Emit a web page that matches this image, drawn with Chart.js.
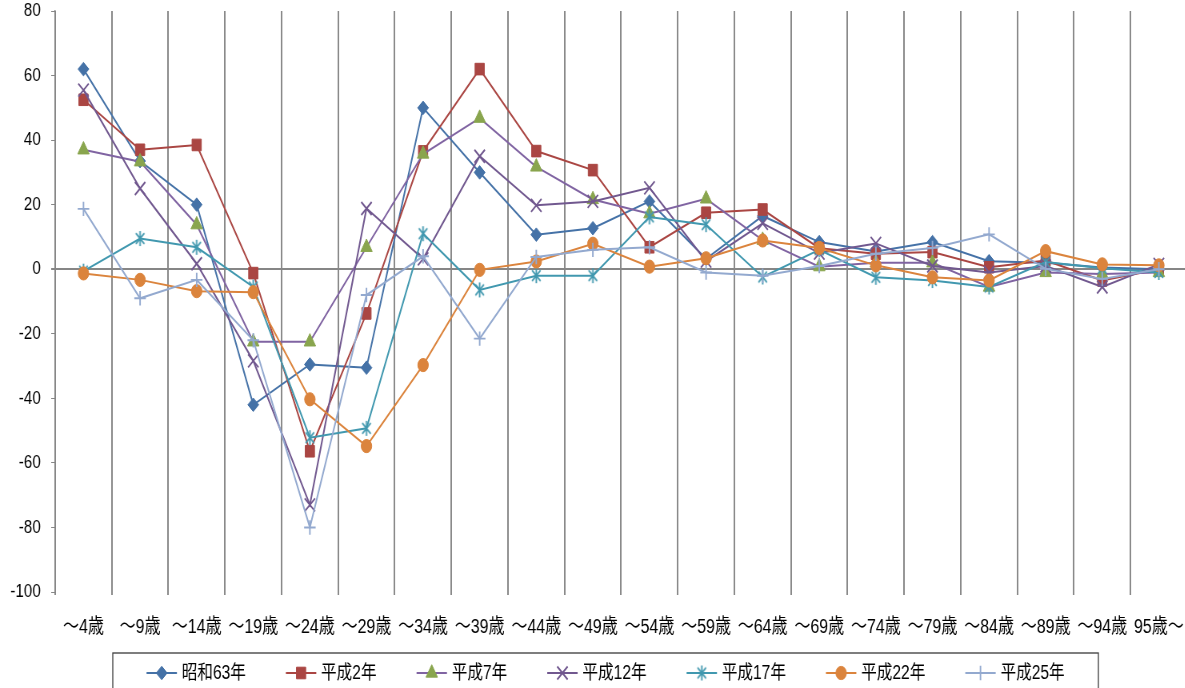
<!DOCTYPE html>
<html lang="ja">
<head>
<meta charset="utf-8">
<title>年齢階級別 人口増減</title>
<script src="https://cdn.jsdelivr.net/npm/chart.js@4.4.1/dist/chart.umd.min.js"></script>
<style>
  html, body { margin: 0; padding: 0; background: #fff; overflow: hidden; width: 1185px; height: 688px; }
  /* the drawing is laid out wide, then compressed horizontally */
  #wrap { width: 1500px; height: 688px; transform: scaleX(0.8); transform-origin: 0 0; }
  canvas { display: block; }
</style>
</head>
<body>
<div id="wrap"><canvas id="chart" width="1500" height="688"></canvas></div>
<script>
// 年齢階級
const ageGroups = ['～4歳', '～9歳', '～14歳', '～19歳', '～24歳', '～29歳', '～34歳', '～39歳',
  '～44歳', '～49歳', '～54歳', '～59歳', '～64歳', '～69歳', '～74歳', '～79歳',
  '～84歳', '～89歳', '～94歳', '95歳～'];

// 縦軸目盛
const yTicks = [-100, -80, -60, -40, -20, 0, 20, 40, 60, 80];

// 系列名
const seriesNames = ['昭和63年', '平成2年', '平成7年', '平成12年', '平成17年', '平成22年', '平成25年'];

// 各年の増減値
const showa63  = [62, 33.5, 20, -42, -29.5, -30.5, 50, 30, 10.7, 12.7, 21, 3.2, 16.5, 8.4, 5.5, 8.4, 2.5, 2, 0.5, 0];
const heisei2  = [52.5, 37, 38.5, -1.2, -56.4, -13.7, 36.5, 62, 36.6, 30.7, 6.8, 17.5, 18.5, 6.5, 4.8, 5.3, 0.6, 2.7, -3.5, 0];
const heisei7  = [37, 33.3, 13.8, -22.5, -22.5, 6.8, 35.7, 46.8, 31.7, 21.6, 17.2, 21.8, 9, 0.8, 2, 2, -5.5, -1, -1.5, -1];
const heisei12 = [55.5, 25, 1.7, -28.4, -73, 18.8, 3.2, 35, 19.8, 21, 25.2, 2.5, 14.2, 5, 8, 1, -1, 1, -5.5, 1.5];
const heisei17 = [-0.6, 9.5, 6.8, -5.5, -52.2, -49.3, 11, -6.4, -2, -2, 16.2, 13.8, -2.4, 6, -2.5, -3.5, -5.5, 2.2, 0.3, -1];
const heisei22 = [-1.3, -3.3, -6.8, -7.1, -40.3, -54.8, -29.7, -0.2, 2.4, 7.9, 0.8, 3.4, 8.9, 6.6, 1.2, -2.5, -3.5, 5.6, 1.5, 1.2];
const heisei25 = [18.7, -9, -3.3, -22, -80, -8, 4, -21.5, 3.8, 6, 6.8, -1, -2, 1, 4.8, 6.6, 10.8, 0.1, -3, 0];

const seriesValues = [showa63, heisei2, heisei7, heisei12, heisei17, heisei22, heisei25];

const FONT_FAMILY = '"Liberation Sans", "Noto Sans CJK JP", sans-serif';
const GRID = '#8a8a8a';

// asterisk marker: vertical bar crossed by an X
function asteriskMarker(color, size, lw) {
  const c = document.createElement('canvas');
  c.width = size; c.height = size;
  const g = c.getContext('2d');
  g.strokeStyle = color;
  g.lineWidth = lw;
  const m = size / 2, r = size / 2 - 1, d = r * Math.SQRT1_2;
  g.beginPath();
  g.moveTo(m, m - r); g.lineTo(m, m + r);
  g.moveTo(m - d, m - d); g.lineTo(m + d, m + d);
  g.moveTo(m + d, m - d); g.lineTo(m - d, m + d);
  g.stroke();
  return c;
}

const styles = [
  { line: '#4572A7', fill: '#4572A7', stroke: '#4572A7', shape: 'rectRot', r: 6.8, bw: 1 },
  { line: '#AA4643', fill: '#AA4643', stroke: '#AA4643', shape: 'rect', r: 8.2, bw: 1 },
  { line: '#8064A2', fill: '#89A54E', stroke: '#89A54E', shape: 'triangle', r: 8.3, bw: 1 },
  { line: '#71588F', fill: '#71588F', stroke: '#71588F', shape: 'crossRot', r: 9.2, bw: 1.9 },
  { line: '#4198AF', fill: '#4198AF', stroke: '#4198AF', shape: asteriskMarker('#4198AF', 17, 1.9), r: 8, bw: 1.9 },
  { line: '#DB843D', fill: '#DB843D', stroke: '#DB843D', shape: 'circle', r: 6.6, bw: 1 },
  { line: '#93A9CF', fill: '#93A9CF', stroke: '#93A9CF', shape: 'cross', r: 7.2, bw: 1.9 }
];

const datasets = seriesNames.map((name, i) => ({
  label: name,
  data: seriesValues[i],
  borderColor: styles[i].line,
  backgroundColor: styles[i].fill,
  borderWidth: 2,
  tension: 0,
  pointStyle: styles[i].shape,
  pointRadius: styles[i].r,
  pointHoverRadius: styles[i].r,
  pointBackgroundColor: styles[i].fill,
  pointBorderColor: styles[i].stroke,
  pointBorderWidth: styles[i].bw,
  order: seriesNames.length - i   // later years are drawn on top
}));

// boxed key below the axis labels: line segment with marker, then the name
const seriesKey = {
  id: 'seriesKey',
  afterDraw(chart) {
    const ctx = chart.ctx;
    const box = { left: 141, right: 1373, top: 653 };
    const lineLen = 38, gap = 6, spacing = 50, y = 673;
    ctx.save();
    ctx.strokeStyle = '#3a3a3a';
    ctx.lineWidth = 1.3;
    ctx.strokeRect(box.left, box.top, box.right - box.left, 80);
    ctx.font = '19.5px ' + FONT_FAMILY;
    const items = chart.data.datasets.map(ds => ({ ds, w: lineLen + gap + ctx.measureText(ds.label).width }));
    const total = items.reduce((a, it) => a + it.w, 0) + spacing * (items.length - 1);
    let x = (box.left + box.right) / 2 - total / 2;
    items.forEach(it => {
      const ds = it.ds;
      ctx.strokeStyle = ds.borderColor;
      ctx.lineWidth = 2;
      ctx.beginPath();
      ctx.moveTo(x, y);
      ctx.lineTo(x + lineLen, y);
      ctx.stroke();
      ctx.fillStyle = ds.pointBackgroundColor;
      ctx.strokeStyle = ds.pointBorderColor;
      ctx.lineWidth = ds.pointBorderWidth;
      Chart.helpers.drawPoint(ctx, {
        pointStyle: ds.pointStyle, radius: ds.pointRadius, rotation: 0, borderWidth: ds.pointBorderWidth
      }, x + lineLen / 2, y);
      ctx.fillStyle = '#000';
      ctx.textAlign = 'left';
      ctx.textBaseline = 'middle';
      ctx.fillText(ds.label, x + lineLen + gap, y + 1);
      x += it.w + spacing;
    });
    ctx.restore();
  }
};

new Chart(document.getElementById('chart'), {
  type: 'line',
  data: { labels: ageGroups, datasets },
  plugins: [seriesKey],
  options: {
    responsive: false,
    animation: false,
    devicePixelRatio: 1,
    layout: { autoPadding: false, padding: { top: 11, right: 11, left: 0, bottom: 0 } },
    plugins: { legend: { display: false }, tooltip: { enabled: false } },
    scales: {
      x: {
        type: 'category',
        offset: true,
        grid: {
          offset: true,
          color: GRID,
          lineWidth: 2,
          drawTicks: true,
          tickLength: 3,
          tickColor: GRID
        },
        border: { display: false },
        ticks: {
          autoSkip: false,
          maxRotation: 0,
          minRotation: 0,
          color: '#000',
          padding: 20,
          font: { family: FONT_FAMILY, size: 20 }
        },
        afterFit(scale) { scale.height = 96; }
      },
      y: {
        min: -100,
        max: 80,
        afterBuildTicks(scale) { scale.ticks = yTicks.map(v => ({ value: v })); },
        grid: {
          color: ctx => (ctx.tick && ctx.tick.value === 0) ? '#868686' : 'rgba(0,0,0,0)',
          lineWidth: ctx => (ctx.tick && ctx.tick.value === 0) ? 2 : 1,
          drawTicks: true,
          tickLength: 5,
          tickColor: '#868686'
        },
        border: { display: true, color: '#868686', width: 1.5 },
        ticks: {
          color: '#000',
          padding: 13,
          font: { family: FONT_FAMILY, size: 19 }
        },
        afterFit(scale) {
          scale.width = 69;
          scale.paddingTop = 0;
          scale.paddingBottom = 0;
        }
      }
    }
  }
});
</script>
</body>
</html>
